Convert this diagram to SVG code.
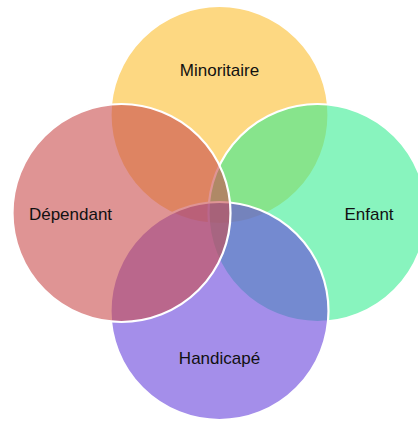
<svg xmlns="http://www.w3.org/2000/svg" width="418" height="421" viewBox="0 0 418 421">
<style>
.c{stroke:#ffffff;stroke-width:2.2;fill-opacity:0.6}
.t{font-family:"Liberation Sans",Arial,sans-serif;font-size:17px;fill:#111111;text-anchor:middle}
</style>
<rect width="418" height="421" fill="#ffffff"/>
<g id="minoritaire"><circle class="c" cx="219.5" cy="115" r="109" fill="#FCBE2F"/></g>
<g id="enfant"><circle class="c" cx="317.5" cy="213" r="109" fill="#39ED93"/></g>
<g id="handicape"><circle class="c" cx="219.5" cy="311" r="109" fill="#6743DC"/></g>
<g id="dependant"><circle class="c" cx="121.5" cy="213" r="109" fill="#CA4D4D"/></g>
<g id="labels">
<text class="t" x="219.5" y="76">Minoritaire</text>
<text class="t" x="70.5" y="220">Dépendant</text>
<text class="t" x="369" y="220">Enfant</text>
<text class="t" x="219.5" y="364">Handicapé</text>
</g>
<g id="connectors"></g>
</svg>
